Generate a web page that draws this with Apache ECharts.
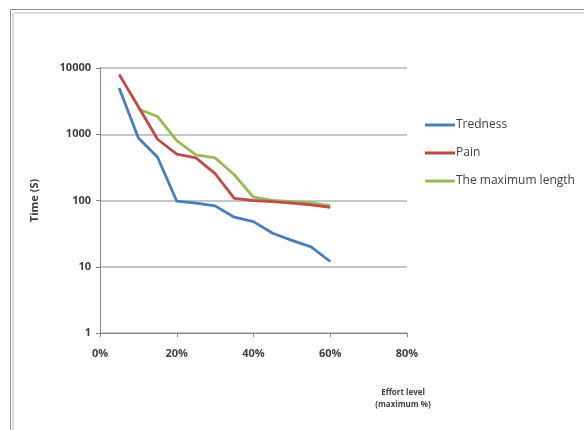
<!DOCTYPE html>
<html>
<head>
<meta charset="utf-8">
<script src="https://cdn.jsdelivr.net/npm/echarts@6/dist/echarts.min.js"></script>
<style>
  html, body { margin: 0; padding: 0; background: #ffffff; }
  #chart { width: 584px; height: 430px; }
</style>
</head>
<body>
<div id="chart"></div>
<script>
// Effort level (fraction of maximum) for each measurement
const effort = [0.05, 0.10, 0.15, 0.20, 0.25, 0.30, 0.35, 0.40, 0.45, 0.50, 0.55, 0.60];

// Time in seconds, one array per series (null = no measurement)
const tredness = [5000, 880, 450, 98, 91, 83, 56, 48, 32, 25, 20, 12];
const pain = [8000, 2600, 840, 500, 440, 255, 108, 100, 96, 91, 86, 79];
const maxLength = [null, 2400, 1850, 800, 490, 440, 245, 112, 100, 96, 92, 84];

const seriesNames = ['Tredness', 'Pain', 'The maximum length'];
const seriesColors = ['#4a7ebb', '#be4b48', '#98b954'];
const seriesValues = [tredness, pain, maxLength];

const xTicks = [0, 0.2, 0.4, 0.6, 0.8];
const yTicks = [1, 10, 100, 1000, 10000];

const FONT = '"Open Sans", "Noto Sans", sans-serif';
const TEXT = '#404040';

const chart = echarts.init(document.getElementById('chart'), null, { renderer: 'canvas' });

const pairs = vals => effort.map((x, i) => vals[i] == null ? null : [x, vals[i]]).filter(p => p);

chart.setOption({
  animation: false,
  backgroundColor: '#ffffff',
  grid: { left: 100, right: 177, top: 68, bottom: 97 },
  legend: {
    orient: 'vertical',
    left: 425,
    top: 119,
    padding: 0,
    itemGap: 16,
    itemWidth: 30,
    itemHeight: 12,
    icon: 'path://M0,5 L30,5 L30,8 L0,8 Z',
    data: seriesNames,
    textStyle: { fontFamily: FONT, fontSize: 12, color: TEXT, padding: [0, 0, 0, -4] }
  },
  xAxis: {
    type: 'value',
    min: xTicks[0],
    max: xTicks[xTicks.length - 1],
    interval: 0.2,
    axisLine: { show: true, onZero: false, lineStyle: { color: '#868686', width: 1 } },
    axisTick: { show: true, inside: false, length: 4, lineStyle: { color: '#868686' } },
    splitLine: { show: false },
    axisLabel: {
      fontFamily: FONT, fontSize: 11, fontWeight: 'bold', color: TEXT, margin: 15,
      formatter: v => Math.round(v * 100) + '%'
    }
  },
  yAxis: {
    type: 'log',
    logBase: 10,
    min: yTicks[0],
    max: yTicks[yTicks.length - 1],
    name: 'Time (S)',
    nameLocation: 'middle',
    nameGap: 60,
    nameRotate: 90,
    nameTextStyle: { fontFamily: FONT, fontSize: 11, fontWeight: 'bold', color: TEXT },
    axisLine: { show: true, lineStyle: { color: '#868686', width: 1 } },
    axisTick: { show: true, inside: false, length: 4, lineStyle: { color: '#868686' } },
    splitLine: { show: true, lineStyle: { color: '#b3b3b3', width: 1.5 } },
    axisLabel: {
      fontFamily: FONT, fontSize: 11, fontWeight: 'bold', color: TEXT, margin: 9,
      formatter: v => String(Math.round(v))
    }
  },
  graphic: [
    // outer frame of the chart area
    { type: 'line', shape: { x1: 10.5, y1: 9.5, x2: 10.5, y2: 430 }, style: { stroke: '#8e8e8e', lineWidth: 1 } },
    { type: 'line', shape: { x1: 10.5, y1: 9.5, x2: 584, y2: 9.5 }, style: { stroke: '#8e8e8e', lineWidth: 1 } },
    { type: 'line', shape: { x1: 13, y1: 13, x2: 13, y2: 430 }, style: { stroke: '#dadada', lineWidth: 2 } },
    { type: 'line', shape: { x1: 13, y1: 13, x2: 584, y2: 13 }, style: { stroke: '#dadada', lineWidth: 2 } },
    // x axis title, centred under the axis end
    {
      type: 'text', x: 403, y: 387,
      style: {
        text: 'Effort level\n(maximum %)', fontFamily: FONT, fontSize: 8, fontWeight: 'bold',
        fill: TEXT, align: 'center', textAlign: 'center', lineHeight: 12
      }
    }
  ],
  series: seriesNames.map((name, i) => ({
    name,
    type: 'line',
    data: pairs(seriesValues[i]),
    showSymbol: false,
    symbol: 'none',
    color: seriesColors[i],
    lineStyle: { color: seriesColors[i], width: 2.8 },
    z: 3 + (2 - i)
  }))
});
</script>
</body>
</html>
